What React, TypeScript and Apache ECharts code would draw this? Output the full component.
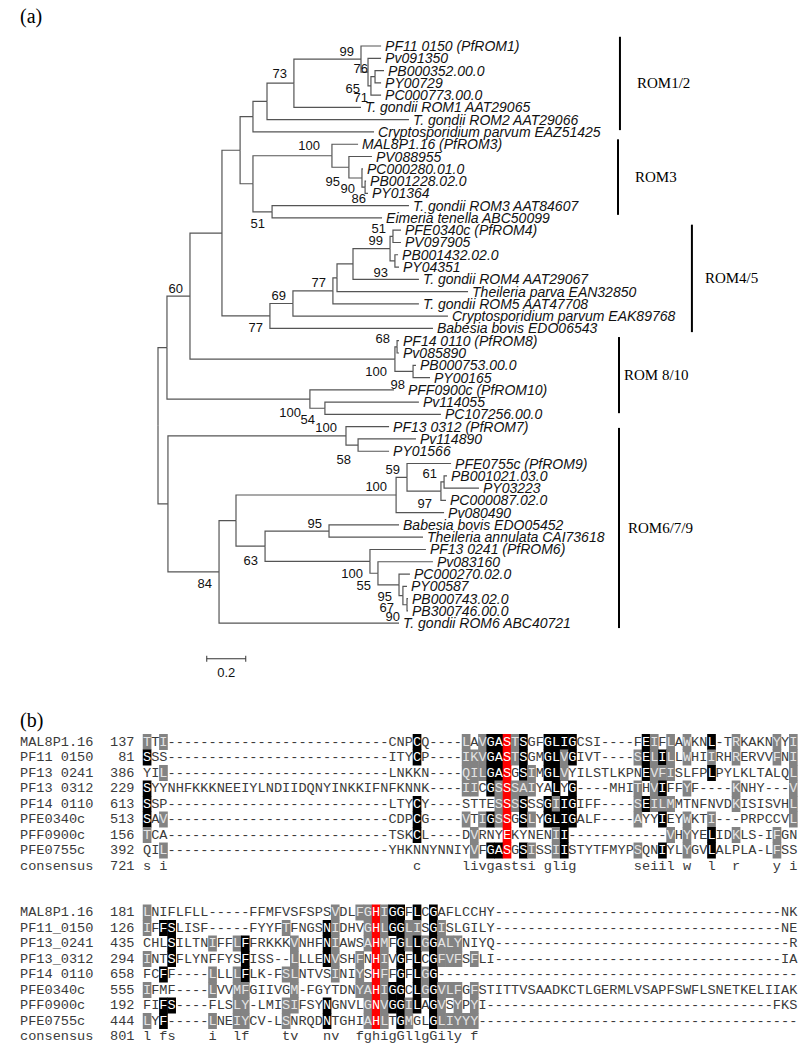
import React, { useEffect, useRef } from "react";
import * as echarts from "echarts";

// ---------------- (a) phylogenetic tree ----------------
const leafNames = [
  "PF11 0150 (PfROM1)", "Pv091350", "PB000352.00.0", "PY00729", "PC000773.00.0",
  "T. gondii ROM1 AAT29065", "T. gondii ROM2 AAT29066", "Cryptosporidium parvum EAZ51425",
  "MAL8P1.16 (PfROM3)", "PV088955", "PC000280.01.0", "PB001228.02.0", "PY01364",
  "T. gondii ROM3 AAT84607", "Eimeria tenella ABC50099",
  "PFE0340c (PfROM4)", "PV097905", "PB001432.02.0", "PY04351", "T. gondii ROM4 AAT29067",
  "Theileria parva EAN32850", "T. gondii ROM5 AAT47708", "Cryptosporidium parvum EAK89768",
  "Babesia bovis EDO06543",
  "PF14 0110 (PfROM8)", "Pv085890", "PB000753.00.0", "PY00165", "PFF0900c (PfROM10)",
  "Pv114055", "PC107256.00.0",
  "PF13 0312 (PfROM7)", "Pv114890", "PY01566", "PFE0755c (PfROM9)", "PB001021.03.0",
  "PY03223", "PC000087.02.0", "Pv080490", "Babesia bovis EDO05452", "Theileria annulata CAI73618",
  "PF13 0241 (PfROM6)", "Pv083160", "PC000270.02.0", "PY00587", "PB000743.02.0",
  "PB300746.00.0", "T. gondii ROM6 ABC40721",
];

// cumulative distance from the root (substitutions / site)
const leafDepth = [
  1.144, 1.144, 1.159, 1.144, 1.144, 1.041, 1.287, 1.108,
  1.026, 1.097, 1.051, 1.067, 1.077, 1.287, 1.149,
  1.246, 1.246, 1.231, 1.236, 1.338, 1.590, 1.338, 1.487, 1.410,
  1.236, 1.236, 1.323, 1.395, 1.210, 1.338, 1.451,
  1.185, 1.323, 1.185, 1.503, 1.482, 1.646, 1.477, 1.467, 1.236, 1.359,
  1.374, 1.410, 1.292, 1.277, 1.282, 1.282, 1.236,
];

// internal nodes: [first leaf, last leaf, depth]
const clades: [number, number, number][] = [
  [0, 47, 0],
  [0, 30, 0.046], [0, 27, 0.164], [0, 23, 0.328], [0, 14, 0.421], [0, 7, 0.487], [0, 6, 0.559],
  [0, 5, 0.697], [0, 4, 1.041], [1, 4, 1.077], [2, 4, 1.092], [2, 3, 1.113],
  [8, 14, 0.487], [8, 12, 0.892], [9, 12, 0.979], [10, 12, 1.046], [11, 12, 1.062], [13, 14, 0.585],
  [15, 23, 0.574], [15, 22, 0.692], [15, 21, 0.897], [15, 20, 0.918], [15, 19, 1.0], [15, 18, 1.19],
  [15, 16, 1.205], [17, 18, 1.215],
  [24, 27, 1.215], [24, 25, 1.226], [26, 27, 1.308],
  [28, 30, 0.779], [29, 30, 0.856],
  [31, 47, 0.051], [31, 33, 0.964], [32, 33, 1.026],
  [34, 47, 0.313], [34, 46, 0.4], [34, 38, 1.221], [34, 37, 1.277], [35, 37, 1.451], [35, 36, 1.467],
  [39, 46, 0.549], [39, 40, 0.877], [41, 46, 1.087], [42, 46, 1.128], [43, 46, 1.236], [44, 46, 1.256],
  [45, 46, 1.277],
];

// bootstrap support: [value, first leaf, last leaf]
const supportValues: [string, number, number][] = [
  ["99", 0, 4], ["76", 1, 4], ["65", 2, 3], ["71", 2, 4], ["73", 0, 5],
  ["100", 8, 12], ["95", 9, 12], ["90", 10, 12], ["86", 11, 12], ["51", 13, 14],
  ["51", 15, 16], ["99", 15, 18], ["93", 15, 19], ["77", 15, 21], ["69", 15, 22], ["77", 15, 23],
  ["60", 0, 27],
  ["68", 24, 25], ["100", 24, 27], ["98", 28, 28], ["100", 28, 30], ["54", 29, 30],
  ["100", 31, 33], ["58", 32, 33], ["59", 34, 37], ["100", 34, 38], ["61", 35, 36], ["97", 35, 37],
  ["95", 39, 40], ["63", 39, 46], ["84", 34, 47], ["100", 41, 46], ["55", 42, 46], ["95", 43, 46],
  ["67", 44, 46], ["90", 45, 46],
];
// placement of each support label (a = above branch, b = below), extra dx, dy in px
const supportPlace: [string, number, number][] = [
  ["a", 0, 0], ["a", 7, 4], ["b", -8, 0], ["b", 4, 0], ["a", 0, -2],
  ["a", -5, -2], ["b", -2, 2], ["b", 0, -2], ["b", 8, -1], ["b", 0, 0],
  ["a", 0, 0], ["a", 0, 0], ["a", 42, 17], ["a", 0, 0], ["a", 0, 0], ["b", 0, 0],
  ["a", 0, 0],
  ["a", 0, 0], ["b", -1, 0], ["a", 18, 3], ["b", -2, 1], ["b", -3, -1],
  ["a", -2, 0], ["b", 0, 2], ["a", 0, 0], ["a", -2, 0], ["a", 0, 0], ["b", -2, 0],
  ["a", 0, 0], ["b", 0, 2], ["b", 0, 0], ["b", 0, 0], ["b", 0, 0], ["b", 0, 0],
  ["b", -2, 0], ["b", 0, 0],
];
// extra gap (px) between a branch tip and its name, where a support value sits there
const leafLabelExtra: Record<number, number> = { 28: 10 };

const groupNames = ["ROM1/2", "ROM3", "ROM4/5", "ROM 8/10", "ROM6/7/9"];
const groupRanges: [number, number][] = [[0, 7], [8, 14], [15, 23], [24, 30], [31, 47]];
// bar x (tree units), top extension, bottom extension (leaf rows), label dx (px)
const groupStyle: [number, number, number, number][] = [
  [2.369, -0.75, -0.15, 17], [2.359, -0.4, -0.25, 17], [2.738, -0.45, 0.3, 13],
  [2.364, -0.3, -0.1, 5], [2.364, 0.1, 0.4, 9],
];

const scaleBarLength = 0.2;
const scaleBarLabel = "0.2";
const scaleBarAt = [0.25, 49.9];

// ---------------- (b) alignment ----------------
const alignNames1 = ["MAL8P1.16", "PF11 0150", "PF13 0241", "PF13 0312", "PF14 0110", "PFE0340c", "PFF0900c", "PFE0755c", "consensus"];
const alignStart1 = [137, 81, 386, 229, 613, 513, 156, 392, 721];
// sequence segments; numbers are runs of gap characters
const alignSeq1: (string | number)[][] = [
  ["TTI", 27, "CNPCQ", 4, "LAVGASTSGFGLIGCSI", 4, "FEIFLAWKNL", 1, "TRKAKNYYI"],
  ["SSS", 27, "ITYCP", 4, "IKVGASTSGMGLVGIVT", 4, "SELILLWHIIRHRERVVFNI"],
  ["YIL", 27, "LNKKN", 4, "QILGASGSIMGLVYILSTLKPNEVFISLFPLPYLKLTALQL"],
  ["SYYNHFKKKNEEIYLNDIIDQNYINKKIFNFKNNK", 4, "IICGSSSAIYALYG", 4, "MHITHVIFFYF", 4, "KNHY", 3, "V"],
  ["SSP", 27, "LTYCY", 4, "STTESSSSSSGIIGIFF", 4, "SEILMMTNFNVDKISISVHL"],
  ["SAV", 27, "CDPCG", 4, "VTIGSSGSLYGLIGALF", 4, "AYYIEYWKTI", 3, "PRPCCVL"],
  ["TCA", 27, "TSKCL", 4, "DVRNYEKYNENII", 12, "VHYYELIDKLS", 1, "IFGN"],
  ["QIL", 27, "YHKNNYNNIYVFGASGSISSIISTYTFMYPSQNIYLYGVLALPLA", 1, "LFSS"],
];
const consensus1 = "0:s 2:i 33:c 39:livgastsi 49:glig 60:seiil 66:w 69:l 72:r 77:y 79:i";
// shading: g = similar (grey), k = identical (black), r = catalytic residue (red)
const alignShade1 = [
  "0g 2g 33k 39g 41g 42k 43k 44r 45g 46k 49-52k 61k 62g 64g 66g 69k 72g 77g 79g",
  "0k 33k 39g 40g 41g 42k 43k 44r 45g 46k 49k 50k 51g 52k 60g 61k 62g 63k 64g 66g 69g 72g 77g 79g",
  "2g 39g 40g 41g 42k 43k 44r 46k 47g 49k 50k 51g 61k 62g 63g 64g 69k 79g",
  "0k 39g 40g 42k 43g 44r 45g 46g 47g 50k 52k 60g 62g 63k 66g 72g 79g",
  "0k 33k 43g 44r 45g 46k 49k 50g 51k 52k 60g 61k 62g 63g 64g 72g 79g",
  "0k 2g 33k 39g 41g 42k 43g 44r 46k 47g 49-52k 60g 63k 66g 69g 79g",
  "0g 33k 40g 44r 50g 51k 64g 66g 69k 72g 77g",
  "2g 40g 42k 43k 44r 46k 47g 50g 51k 60g 63k 66g 69k 77g",
];

const alignNames2 = ["MAL8P1.16", "PF11_0150", "PF13_0241", "PF13_0312", "PF14 0110", "PFE0340c", "PFF0900c", "PFE0755c", "consensus"];
const alignStart2 = [181, 126, 435, 294, 658, 555, 192, 444, 801];
const alignSeq2: (string | number)[][] = [
  ["LNIFLFLL", 5, "FFMFVSFSPSVDLFGHIGGFLCGAFLCCHY", 35, "NK"],
  ["IFFSLISF", 5, "FYYFTFNGSNIDHVGHLGGLISGISLGILY", 35, "NE"],
  ["CHLSILTNIFFLFFRKKKVNHFNIAWSAHMFGLLGGALYNIYQ", 36, "R"],
  ["INTSFLYNFFYSFISS", 2, "LLLENVSHFNHIVGFLCGFVFSFLI", 35, "IA"],
  ["FCFF", 4, "LLLLFLK", 1, "FSLNTVSINIYSHFFGFLGG", 44],
  ["IFMF", 4, "LVVMFGIIVGM", 1, "FGYTDNYAHIGGCLGGVLFGFSTITTVSAADKCTLGERMLVSAPFSWFLSNETKELIIAK"],
  ["FIFS", 4, "FLSLY", 1, "LMISIFSYNGNVLGNVGGILAGVSYPYI", 35, "FKS"],
  ["LYF", 5, "LNEIYCV", 1, "LSNRQDNTGHIAHLTGMGLGLIYYY", 39],
];
const consensus2 = "0:l 2:fs 8:i 11:lf 17:tv 22:nv 26:fghigGllgGily 40:f";
const alignShade2 = [
  "0g 23g 26g 27g 28r 29g 30k 31k 33k 35k",
  "0g 2k 3k 17g 22k 23g 27g 28r 29g 30k 31k 32g 33g 35k 36g",
  "3k 8g 11g 12k 18g 22k 23g 27g 28r 29g 31k 32g 33k 34g 35k 36-38g",
  "0g 3k 12k 18g 22k 23g 26g 28r 29g 31k 33k 35k 36-38g 40g",
  "2k 8g 11g 12k 17g 18g 23g 26g 28r 29g 31k 33k 34g 35k",
  "0g 8g 11g 12g 18g 26g 27g 28r 29g 30k 31k 33k 34g 35k 36-38g 40g",
  "2k 3k 11g 12g 17g 18g 22k 27g 28r 29g 30k 31k 32g 33k 35k 36g 38g 40g",
  "0g 2k 8g 11g 12g 17g 22k 27g 28r 29g 31k 32g 35k 36-39g 40g",
];

// ---------------- helpers ----------------
const SANS = '"Liberation Sans", Arial, sans-serif';
const SERIF = '"Liberation Serif", "Times New Roman", serif';
const MONO = '"Liberation Mono", "Courier New", monospace';
const COLS = 80;
const ROW_PX = 12.28;

function expandSeq(parts: (string | number)[]) {
  return parts.map((p) => (typeof p === "number" ? "-".repeat(p) : p)).join("");
}
function expandConsensus(tokens: string) {
  const arr: string[] = Array(COLS).fill(" ");
  tokens.split(" ").forEach((t) => {
    const [c, s] = t.split(":");
    for (let i = 0; i < s.length; i++) arr[+c + i] = s[i];
  });
  return arr.join("");
}
function parseShade(tokens: string) {
  const m: Record<number, number> = {};
  const code: Record<string, number> = { g: 1, k: 2, r: 3 };
  tokens.split(" ").filter(Boolean).forEach((t) => {
    const type = t[t.length - 1];
    const body = t.slice(0, -1);
    const [a, b] = body.split("-").map(Number);
    const end = b === undefined || isNaN(b) ? a : b;
    for (let c = a; c <= end; c++) m[c] = code[type];
  });
  return m;
}

function buildOption() {
  // ---- tree layout ----
  type TNode = { from: number; to: number; depth: number; y: number; parent: number; leaf: boolean; size: number };
  const nodes: TNode[] = leafNames.map((_, i) => ({ from: i, to: i, depth: leafDepth[i], y: i, parent: -1, leaf: true, size: 0 }));
  clades.forEach(([a, b, d]) => nodes.push({ from: a, to: b, depth: d, y: 0, parent: -1, leaf: false, size: b - a }));
  nodes.forEach((n, i) => {
    let best = -1;
    nodes.forEach((m, j) => {
      if (j === i || m.leaf) return;
      if (m.from <= n.from && m.to >= n.to && m.size > n.size) {
        if (best < 0 || m.size < nodes[best].size) best = j;
      }
    });
    n.parent = best;
  });
  const order = nodes.map((_, i) => i).filter((i) => !nodes[i].leaf).sort((a, b) => nodes[a].size - nodes[b].size);
  order.forEach((i) => {
    const kids = nodes.map((_, j) => j).filter((j) => nodes[j].parent === i).sort((a, b) => nodes[a].from - nodes[b].from);
    nodes[i].y = (nodes[kids[0]].y + nodes[kids[kids.length - 1]].y) / 2;
  });
  const findNode = (a: number, b: number) => nodes.find((n) => n.from === a && n.to === b)!;

  const edgeData = nodes.filter((n) => n.parent >= 0).map((n) => {
    const p = nodes[n.parent];
    return [n.depth, n.y, p.depth, p.y];
  });
  const leafData = leafNames.map((_, i) => [leafDepth[i], i]);
  const supportData = supportValues.map(([, a, b]) => {
    const n = findNode(a, b);
    return [n.depth, n.y];
  });
  const groupData = groupRanges.map(([a, b], i) => [groupStyle[i][0], a + groupStyle[i][1], b + groupStyle[i][2]]);

  // ---- alignment cells ----
  const rowsTotal = 20;
  const rowLabels: string[] = Array(rowsTotal).fill("");
  const cells: any[] = [];
  const addBlock = (names: string[], starts: number[], seqs: (string | number)[][], cons: string, shades: string[], rowOffset: number) => {
    names.forEach((nm, r) => {
      const row = rowOffset + r;
      rowLabels[row] = `{n|${nm}}{c|${starts[r]}}`;
      const text = r < seqs.length ? expandSeq(seqs[r]) : expandConsensus(cons);
      const sh = r < shades.length ? parseShade(shades[r]) : {};
      for (let c = 0; c < COLS; c++) {
        const ch = text[c];
        if (!ch || ch === " ") continue;
        const v = sh[c] || 0;
        cells.push({
          name: ch,
          value: [c, row, v],
          label: { color: v === 0 ? "#3a3a3a" : v === 1 ? "#e4e4e4" : "#ffffff" },
        });
      }
    });
  };
  addBlock(alignNames1, alignStart1, alignSeq1, consensus1, alignShade1, 0);
  addBlock(alignNames2, alignStart2, alignSeq2, consensus2, alignShade2, 11);

  const lineColor = "#555";

  const series: any[] = [
    {
      type: "custom",
      name: "branches",
      xAxisIndex: 0,
      yAxisIndex: 0,
      silent: true,
      data: edgeData,
      renderItem: (_p: any, api: any) => {
        const c = api.coord([api.value(0), api.value(1)]);
        const p = api.coord([api.value(2), api.value(3)]);
        return {
          type: "polyline",
          shape: { points: [[p[0], p[1]], [p[0], c[1]], [c[0], c[1]]] },
          style: { stroke: lineColor, lineWidth: 1.2, fill: "none" },
        };
      },
    },
    {
      type: "custom",
      name: "leaves",
      xAxisIndex: 0,
      yAxisIndex: 0,
      silent: true,
      data: leafData,
      renderItem: (params: any, api: any) => {
        const c = api.coord([api.value(0), api.value(1)]);
        return {
          type: "text",
          x: c[0] + 4 + (leafLabelExtra[params.dataIndex] || 0),
          y: c[1],
          style: {
            text: leafNames[params.dataIndex],
            fill: "#111",
            fontSize: 14,
            fontStyle: "italic",
            fontFamily: SANS,
            align: "left",
            verticalAlign: "middle",
          },
        };
      },
    },
    {
      type: "custom",
      name: "support",
      xAxisIndex: 0,
      yAxisIndex: 0,
      silent: true,
      data: supportData,
      renderItem: (params: any, api: any) => {
        const c = api.coord([api.value(0), api.value(1)]);
        const [side, dx, dy] = supportPlace[params.dataIndex];
        return {
          type: "text",
          x: c[0] - 7 + dx,
          y: c[1] + (side === "a" ? -8 : 12) + dy,
          style: {
            text: supportValues[params.dataIndex][0],
            fill: "#111",
            fontSize: 13,
            fontFamily: SANS,
            align: "right",
            verticalAlign: "middle",
          },
        };
      },
    },
    {
      type: "custom",
      name: "groups",
      xAxisIndex: 0,
      yAxisIndex: 0,
      silent: true,
      data: groupData,
      renderItem: (params: any, api: any) => {
        const t = api.coord([api.value(0), api.value(1)]);
        const b = api.coord([api.value(0), api.value(2)]);
        return {
          type: "group",
          children: [
            { type: "line", shape: { x1: t[0], y1: t[1], x2: b[0], y2: b[1] }, style: { stroke: "#000", lineWidth: 2 } },
            {
              type: "text",
              x: t[0] + groupStyle[params.dataIndex][3],
              y: (t[1] + b[1]) / 2,
              style: {
                text: groupNames[params.dataIndex],
                fill: "#000",
                fontSize: 15,
                fontFamily: SERIF,
                align: "left",
                verticalAlign: "middle",
              },
            },
          ],
        };
      },
    },
    {
      type: "custom",
      name: "scale",
      xAxisIndex: 0,
      yAxisIndex: 0,
      silent: true,
      data: [[scaleBarAt[0], scaleBarAt[1], scaleBarAt[0] + scaleBarLength]],
      renderItem: (_p: any, api: any) => {
        const a = api.coord([api.value(0), api.value(1)]);
        const b = api.coord([api.value(2), api.value(1)]);
        return {
          type: "group",
          children: [
            { type: "line", shape: { x1: a[0], y1: a[1], x2: b[0], y2: b[1] }, style: { stroke: "#333", lineWidth: 1.2 } },
            { type: "line", shape: { x1: a[0], y1: a[1] - 3, x2: a[0], y2: a[1] + 3 }, style: { stroke: "#333", lineWidth: 1 } },
            { type: "line", shape: { x1: b[0], y1: b[1] - 3, x2: b[0], y2: b[1] + 3 }, style: { stroke: "#333", lineWidth: 1 } },
            {
              type: "text",
              x: (a[0] + b[0]) / 2,
              y: a[1] + 14,
              style: { text: scaleBarLabel, fill: "#111", fontSize: 13, fontFamily: SANS, align: "center", verticalAlign: "middle" },
            },
          ],
        };
      },
    },
    {
      type: "heatmap",
      name: "alignment",
      xAxisIndex: 1,
      yAxisIndex: 1,
      silent: true,
      data: cells,
      itemStyle: { borderWidth: 0 },
      label: {
        show: true,
        formatter: "{b}",
        fontFamily: MONO,
        fontSize: 13.6,
      },
      emphasis: { disabled: true },
    },
  ];

  return {
    animation: false,
    backgroundColor: "#fff",
    textStyle: { fontFamily: SANS },
    grid: [
      { left: 158, top: 46, width: 585, height: 52 * ROW_PX },
      { left: 143, top: 734.25, width: COLS * 8.18, height: rowsTotal * 15.5 },
    ],
    xAxis: [
      { type: "value", gridIndex: 0, min: 0, max: 3, show: false },
      { type: "category", gridIndex: 1, data: Array.from({ length: COLS }, (_, i) => String(i)), show: false },
    ],
    yAxis: [
      { type: "value", gridIndex: 0, min: 0, max: 52, inverse: true, show: false },
      {
        type: "category",
        gridIndex: 1,
        inverse: true,
        data: Array.from({ length: rowsTotal }, (_, i) => String(i)),
        axisLine: { show: false },
        axisTick: { show: false },
        splitLine: { show: false },
        axisLabel: {
          interval: 0,
          align: "left",
          margin: 123,
          formatter: (_v: string, idx: number) => rowLabels[idx],
          rich: {
            n: { width: 11 * 8.18, align: "left", fontFamily: MONO, fontSize: 13.6, color: "#3a3a3a" },
            c: { width: 3 * 8.18, align: "right", fontFamily: MONO, fontSize: 13.6, color: "#3a3a3a" },
          },
        },
      },
    ],
    visualMap: {
      type: "piecewise",
      show: false,
      seriesIndex: 5,
      dimension: 2,
      pieces: [
        { value: 0, color: "rgba(255,255,255,0)" },
        { value: 1, color: "#838383" },
        { value: 2, color: "#000000" },
        { value: 3, color: "#ff0000" },
      ],
    },
    graphic: [
      { type: "text", left: 20, top: 6, style: { text: "(a)", fontSize: 20, fontFamily: SERIF, fill: "#000" } },
      { type: "text", left: 20, top: 710, style: { text: "(b)", fontSize: 20, fontFamily: SERIF, fill: "#000" } },
    ],
    series,
  };
}

export default function App() {
  const ref = useRef<HTMLDivElement>(null);
  useEffect(() => {
    if (!ref.current) return;
    const chart = echarts.init(ref.current, null, { renderer: "svg" });
    chart.setOption(buildOption() as any);
    return () => chart.dispose();
  }, []);
  return (
    <div
      ref={ref}
      style={{ position: "absolute", left: 0, top: 0, width: 802, height: 1050, background: "#fff" }}
    />
  );
}
